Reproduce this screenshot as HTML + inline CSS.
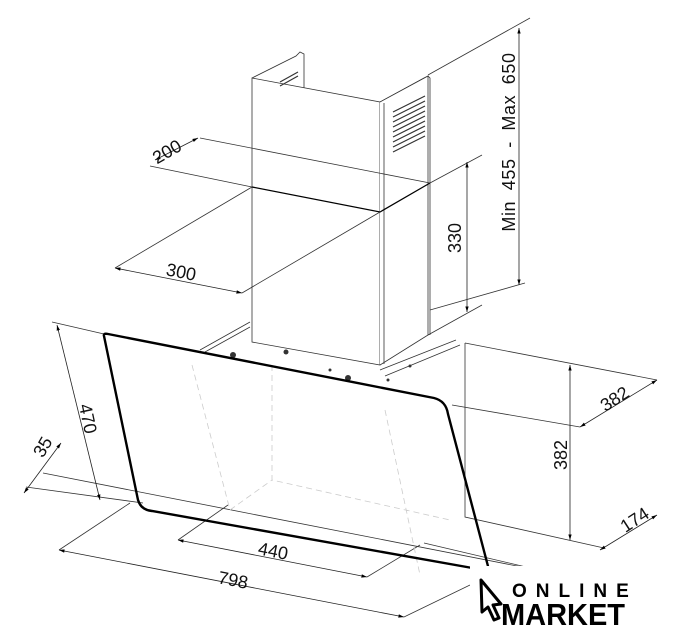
<!DOCTYPE html>
<html><head><meta charset="utf-8"><style>
html,body{margin:0;padding:0;background:#fff;}
svg{display:block;font-family:"Liberation Sans",sans-serif;}
</style></head><body>
<svg width="674" height="640" viewBox="0 0 674 640" xmlns="http://www.w3.org/2000/svg">
<defs>
<marker id="a" viewBox="0 0 10 10" refX="10" refY="5" markerWidth="7" markerHeight="7" orient="auto-start-reverse"><path d="M0,2 L10,5 L0,8 z" fill="#000"/></marker>
</defs>
<g stroke="#333" stroke-width="0.8" fill="none">
<path d="M252,78 L296,56 L300,52 L304,54 L304,88"/>
<path d="M380,102 L424,78 L428,76 L430,78 L430,335"/>
<path d="M252,78 L252,342 L380,365 L380,102 Z" fill="#fff" stroke="#333"/>
<path d="M380,102 L428,76 L428,335 L380,365" fill="#fff"/>
<path d="M384,103 L384,364"/>
<path d="M252,187 L380,212 L430,183" stroke="#000" stroke-width="1.3"/>
<path d="M200,350 L250,322 M205,352 L250,327"/>
<path d="M380,370 L456,340 M385,376 L460,345"/>
<path d="M200,138 L430,183"/>
<path d="M150,166 L252,187"/>
<path d="M115,268 L252,187"/>
<path d="M242,293 L380,212"/>
<path d="M430,183 L482,155"/>
<path d="M428,335 L482,305"/>
<path d="M428,75 L530,18"/>
<path d="M430,310 L525,283"/>
<path d="M52,322 L104,334"/>
<path d="M43,473 L522,567"/>
<path d="M26,487 L143,503"/>
<path d="M59,550 L130,503"/>
<path d="M404,617 L470,585"/>
<path d="M178,540 L228,505"/>
<path d="M367,577 L420,545"/>
<path d="M465,343 L657,380"/>
<path d="M452,405 L580,427"/>
<path d="M465,343 L465,517 L604,548"/>
<path d="M424,543 L526,567"/>
</g>
<g stroke="#333" stroke-width="1.2">
<path d="M393,112 L425,96 M393,117 L425,101 M393,122 L425,106 M393,127 L425,111 M393,132 L425,116 M393,137 L425,121 M393,142 L425,126 M393,147 L425,131 M393,152 L425,136"/>
<path d="M280,82 L298,72 M280,86 L298,76"/>
</g>
<g fill="#333">
<circle cx="233" cy="355" r="3"/><circle cx="286" cy="352" r="2.5"/><circle cx="348" cy="378" r="3"/><circle cx="330" cy="370" r="1.5"/><circle cx="410" cy="366" r="1.5"/><circle cx="388" cy="380" r="1.5"/>
</g>
<g stroke="#ccc" stroke-width="0.8" stroke-dasharray="6,4" fill="none">
<path d="M192,365 L230,510 M272,365 L272,480 L450,520 M230,510 L272,480 M385,410 L420,575"/>
</g>
<g stroke="#222" stroke-width="0.8" fill="none" marker-start="url(#a)" marker-end="url(#a)">
<path d="M155,160 L198,138"/>
<path d="M115,268 L242,293"/>
<path d="M467,162 L467,312"/>
<path d="M519,28 L519,285"/>
<path d="M57,325 L100,500"/>
<path d="M24,493 L61,443"/>
<path d="M59,550 L404,617"/>
<path d="M178,540 L367,577"/>
<path d="M570,365 L570,540"/>
<path d="M580,427 L657,380"/>
<path d="M600,550 L657,515"/>
</g>
<path d="M104,336 Q103,333 108,334 L434,398 Q446,401 448,414 L489,570 M104,336 L138,500 Q141,510 152,511 L478,569" stroke="#000" stroke-width="2.4" fill="none"/>
<g font-size="18" fill="#111">
<text x="170" y="157" transform="rotate(-30 170 157)" text-anchor="middle">200</text>
<text x="180" y="278" transform="rotate(11 180 278)" text-anchor="middle">300</text>
<text x="461" y="238" transform="rotate(-90 461 238)" text-anchor="middle">330</text>
<text x="515" y="142" transform="rotate(-90 515 142)" text-anchor="middle" word-spacing="5" letter-spacing="0.6">Min 455 - Max 650</text>
<text x="82" y="420" transform="rotate(78 82 420)" text-anchor="middle">470</text>
<text x="48" y="450" transform="rotate(-60 48 450)" text-anchor="middle">35</text>
<text x="232" y="586" transform="rotate(11 232 586)" text-anchor="middle">798</text>
<text x="272" y="557" transform="rotate(11 272 557)" text-anchor="middle">440</text>
<text x="567" y="455" transform="rotate(-90 567 455)" text-anchor="middle">382</text>
<text x="618" y="404" transform="rotate(-33 618 404)" text-anchor="middle">382</text>
<text x="638" y="525" transform="rotate(-33 638 525)" text-anchor="middle">174</text>
</g>
<rect x="470" y="566" width="204" height="74" fill="#fff"/>
<path d="M481,580 L501,604 L493,605 L499,618 L494,620 L488,607 L482,612 Z" fill="none" stroke="#000" stroke-width="3" stroke-linejoin="round"/>
<text x="512" y="597" font-size="19" font-weight="bold" letter-spacing="9" fill="#000">ONLINE</text>
<text x="501" y="625" font-size="31" font-weight="bold" fill="#000" textLength="124" lengthAdjust="spacingAndGlyphs">MARKET</text>
</svg>
</body></html>
